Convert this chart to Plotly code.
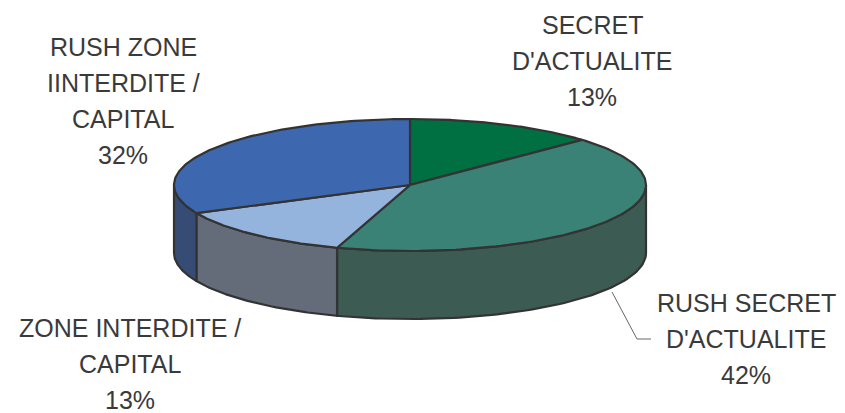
import numpy as np
import plotly.graph_objects as go

# ---- data ----
labels = ["SECRET\nD'ACTUALITE", "RUSH SECRET\nD'ACTUALITE",
          "ZONE INTERDITE /\nCAPITAL", "RUSH ZONE\nIINTERDITE /\nCAPITAL"]
values = [13, 42, 13, 32]
top_colors = ["#006F41", "#3A8276", "#94B4DE", "#3D68B0"]
side_colors = ["#004A2B", "#3C5B53", "#656C79", "#364C74"]
label_pos = [(592, 61), (746, 339), (130, 364), (123, 101)]

# ---- geometry (pixel space) ----
W, H = 845, 413
cx, cy, rx, ry, depth = 410, 185, 236, 66, 68
edge = "#333333"
line_gap = 36

def pt(theta_deg, dy=0.0):
    t = np.radians(theta_deg)
    return cx + rx * np.sin(t), cy - ry * np.cos(t) + dy

total = float(sum(values))
bounds = np.concatenate([[0], np.cumsum(values) / total * 360.0])

fig = go.Figure()

# side faces (front half visible: 90..270 deg)
for i in range(len(values)):
    a, b = max(bounds[i], 90), min(bounds[i + 1], 270)
    if b <= a:
        continue
    th = np.linspace(a, b, 80)
    xs_t, ys_t = pt(th)
    xs_b, ys_b = pt(th[::-1], depth)
    xs = np.concatenate([xs_t, xs_b, xs_t[:1]])
    ys = np.concatenate([ys_t, ys_b, ys_t[:1]])
    fig.add_trace(go.Scatter(x=xs, y=ys, mode="lines", fill="toself",
                             fillcolor=side_colors[i],
                             line=dict(color=edge, width=2.2),
                             hoverinfo="skip", showlegend=False))

# top faces
for i in range(len(values)):
    th = np.linspace(bounds[i], bounds[i + 1], 120)
    xs_a, ys_a = pt(th)
    xs = np.concatenate([[cx], xs_a, [cx]])
    ys = np.concatenate([[cy], ys_a, [cy]])
    fig.add_trace(go.Scatter(x=xs, y=ys, mode="lines", fill="toself",
                             fillcolor=top_colors[i],
                             line=dict(color=edge, width=2.2),
                             hoverinfo="skip", showlegend=False))

# leader line for the large slice
fig.add_trace(go.Scatter(x=[612, 637, 651], y=[292, 339, 339], mode="lines",
                         line=dict(color="#666666", width=1),
                         hoverinfo="skip", showlegend=False))

for lab, v, (lx, ly) in zip(labels, values, label_pos):
    lines = lab.split("\n") + [f"{v}%"]
    n = len(lines)
    for k, txt in enumerate(lines):
        yy = ly + (k - (n - 1) / 2) * line_gap
        fig.add_annotation(x=lx, y=yy, xref="x", yref="y",
                           text=txt, showarrow=False,
                           font=dict(family="Liberation Sans, Arial",
                                     size=25, color="#3a3a3a"),
                           align="center", xanchor="center", yanchor="middle")

fig.update_layout(width=W, height=H, margin=dict(l=0, r=0, t=0, b=0),
                  paper_bgcolor="white", plot_bgcolor="white",
                  xaxis=dict(range=[0, W], visible=False, fixedrange=True),
                  yaxis=dict(range=[H, 0], visible=False, fixedrange=True))

fig.write_html("out.html")
